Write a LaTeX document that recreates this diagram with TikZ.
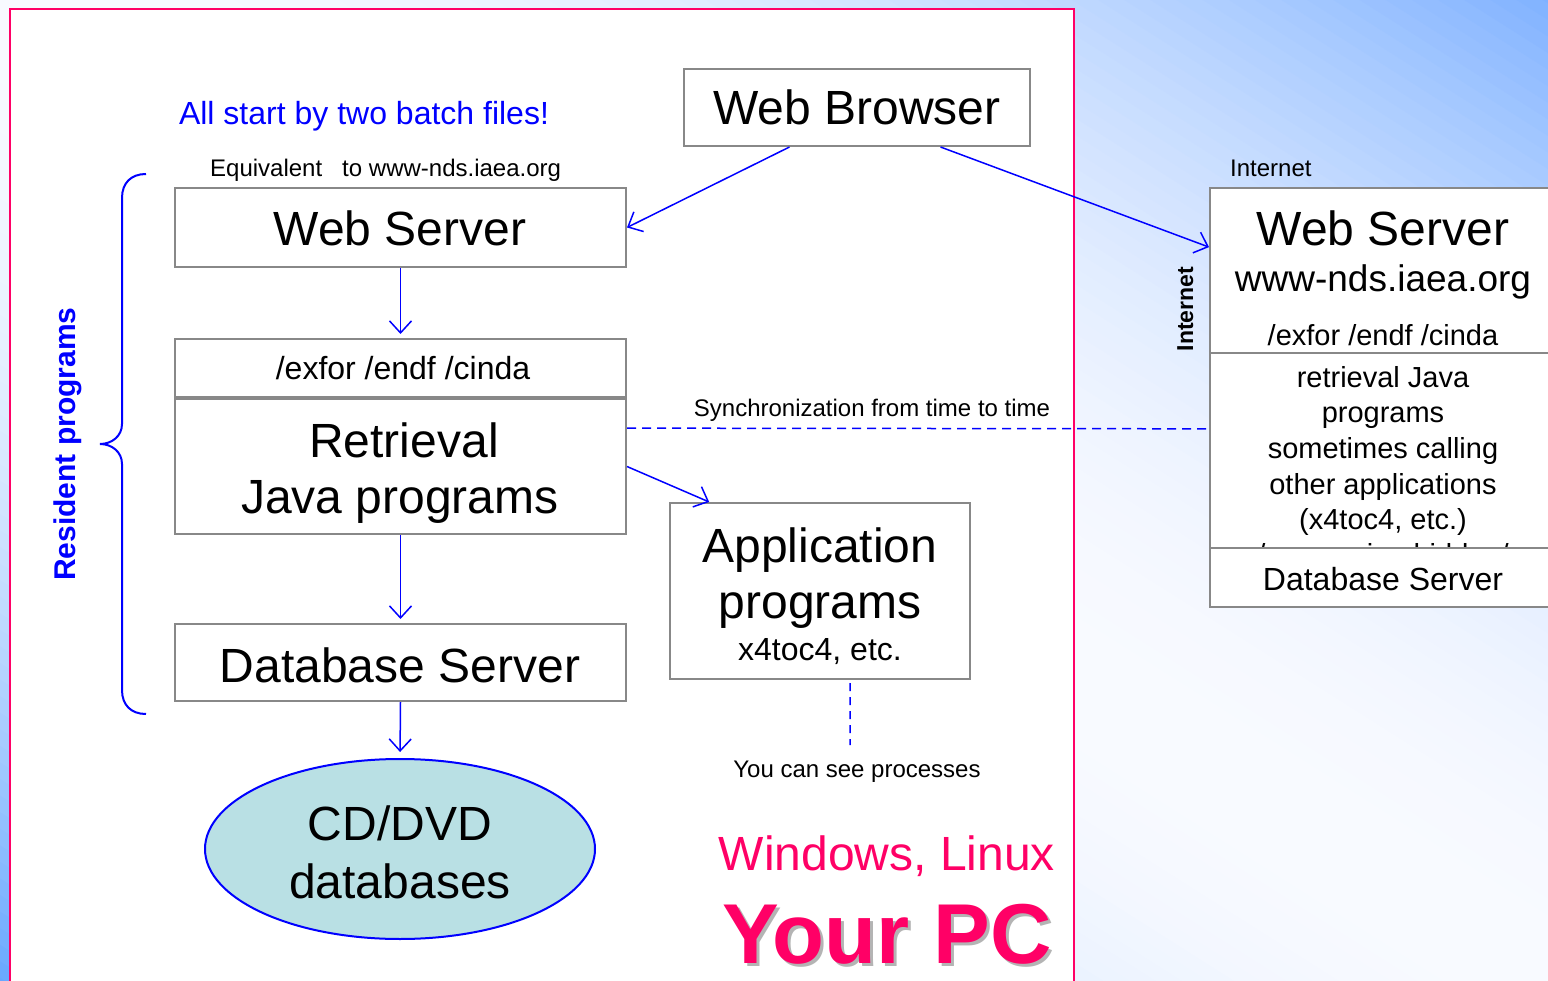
\documentclass[tikz,border=0pt]{standalone}
\usepackage{fontspec}
\setmainfont{Liberation Sans}
\usetikzlibrary{arrows.meta,shapes.geometric,calc}
\definecolor{pinkred}{RGB}{255,0,102}
\definecolor{boxgray}{RGB}{136,136,136}
\definecolor{lnblue}{RGB}{0,0,255}
\definecolor{cdfill}{RGB}{185,224,228}
\definecolor{bgtop}{RGB}{125,176,255}
\definecolor{bgbot}{RGB}{100,165,255}
\definecolor{bgmid}{RGB}{248,250,255}
\definecolor{shadowgray}{RGB}{180,180,180}
\newcommand\fsz[2]{\fontsize{#1}{#2}\selectfont}
\begin{document}
\begin{tikzpicture}[x=1pt,y=-1pt,
  box/.style={draw=boxgray,line width=2pt,fill=white,inner sep=0pt},
  lbl/.style={inner sep=0pt,anchor=base},
  conn/.style={draw=lnblue,line width=1.5pt,-{Straight Barb[length=12pt,width=22pt]}},
  dashconn/.style={draw=lnblue,line width=1.5pt,dash pattern=on 9pt off 6pt},
  frame/.style={draw=pinkred,line width=2pt,fill=white}]
\clip (0,0) rectangle (1548,981);
% page background: blue towards the two off-diagonal corners, pale along the diagonal
\foreach \i in {-60,...,59}{
  \pgfmathsetmacro\da{\i*14}
  \pgfmathsetmacro\db{\i*14+15}
  \pgfmathsetmacro\dm{abs(\i*14+7)/840}
  \pgfmathsetmacro\f{min(100,100*\dm*\dm)}
  \ifnum\i<0 \colorlet{bgc}{bgbot!\f!bgmid}\else\colorlet{bgc}{bgtop!\f!bgmid}\fi
  \fill[bgc] ({774+\da*0.5352-1000*0.8445},{490.5-\da*0.8445-1000*0.5352})
    -- ({774+\da*0.5352+1000*0.8445},{490.5-\da*0.8445+1000*0.5352})
    -- ({774+\db*0.5352+1000*0.8445},{490.5-\db*0.8445+1000*0.5352})
    -- ({774+\db*0.5352-1000*0.8445},{490.5-\db*0.8445-1000*0.5352}) -- cycle;
}
% the local PC area
\draw[frame] (10,9) rectangle (1074,1010);

% boxes of the local PC
\node[box,minimum width=346,minimum height=77] (wb) at (857,107.5) {};
\node[box,minimum width=451,minimum height=79] (ws) at (400.5,227.5) {};
\node[box,minimum width=451,minimum height=58] (ex) at (400.5,368) {};
\node[box,minimum width=451,minimum height=135] (ret) at (400.5,466.5) {};
\node[box,minimum width=451,minimum height=77] (db) at (400.5,662.5) {};
\node[ellipse,draw=lnblue,line width=2pt,fill=cdfill,inner sep=0pt,minimum width=390,minimum height=180] (cd) at (400,849) {};
\node[box,minimum width=300,minimum height=176] (app) at (820,591) {};

% texts of the local PC
\node[lbl,text=lnblue] (tAll) at (364,125) {\fsz{32}{38}All start by two batch files!};
\node[lbl] (tWB) at (857,125) {\fsz{48}{57}Web Browser};
\node[lbl,anchor=base west] (tEq) at (210,177) {\fsz{24}{29}Equivalent\hspace{20pt}to www-nds.iaea.org};
\node[lbl] (tWS) at (400,246) {\fsz{48}{57}Web Server};
\node[lbl] (tEx) at (403,380) {\fsz{32}{38}/exfor /endf /cinda};
\node[lbl] (tRet1) at (404,457) {\fsz{48}{57}Retrieval};
\node[lbl] (tRet2) at (400,513) {\fsz{48}{57}Java programs};
\node[lbl] (tDB) at (400,682) {\fsz{48}{57}Database Server};
\node[lbl] (tCD1) at (400,840) {\fsz{48}{57}CD/DVD};
\node[lbl] (tCD2) at (400,898) {\fsz{48}{57}databases};
\node[lbl] (tApp1) at (820,562) {\fsz{48}{57}Application};
\node[lbl] (tApp2) at (820,618) {\fsz{48}{57}programs};
\node[lbl] (tApp3) at (820,660) {\fsz{32}{38}x4toc4, etc.};
\node[lbl] (tSee) at (857,777) {\fsz{24}{29}You can see processes};
\node[lbl] (tSync) at (872,417) {\fsz{24}{29}Synchronization from time to time};
\node[lbl,text=pinkred] (tWin) at (887,870) {\fsz{48}{57}Windows, Linux};
\node[lbl,text=shadowgray] (tPCs) at (890,966) {\fsz{85}{100}\bfseries Your PC};
\node[lbl,text=pinkred] (tPC) at (887,963) {\fsz{85}{100}\bfseries Your PC};
\node[lbl,rotate=90,text=lnblue] (tRes) at (75,444) {\fsz{30}{36}\bfseries Resident programs};

% brace grouping the resident programs
\draw[lnblue,line width=2pt] (146,174) .. controls (131,174) and (122,183) .. (122,198)
  -- (122,424) .. controls (122,436) and (112,444) .. (100,444)
  .. controls (112,444) and (122,452) .. (122,464)
  -- (122,690) .. controls (122,705) and (131,714) .. (146,714);

% remote server
\node[box,minimum width=360,minimum height=165] (rtop) at (1390,270.5) {};
\node[box,minimum width=360,minimum height=195] (rmid) at (1390,450.5) {};
\node[lbl,anchor=base west] (tNet) at (1230,177) {\fsz{24}{29}Internet};
\node[lbl,rotate=90] (tNetV) at (1193,309) {\fsz{23}{28}\bfseries Internet};
\node[lbl] (tRWS) at (1383,246) {\fsz{48}{57}Web Server};
\node[lbl] (tRurl) at (1383,292) {\fsz{37}{44}www-nds.iaea.org};
\node[lbl] (tRex) at (1383,346) {\fsz{29}{35}/exfor /endf /cinda};
\node[lbl] (tR1) at (1383,388) {\fsz{29}{35}retrieval Java};
\node[lbl] (tR2) at (1383,423) {\fsz{29}{35}programs};
\node[lbl] (tR3) at (1383,458.5) {\fsz{29}{35}sometimes calling};
\node[lbl] (tR4) at (1383,494) {\fsz{29}{35}other applications};
\node[lbl] (tR5) at (1383,529) {\fsz{29}{35}(x4toc4, etc.)};
\begin{scope}
  \clip (1210,353) rectangle (1548,547);
  \node[lbl,text depth=0pt] (tR6) at (1383,564.5) {\fsz{29}{35}/processing hidden/};
\end{scope}
\node[box,minimum width=360,minimum height=59] (rdb) at (1390,577.5) {};
\node[lbl] (tRdb) at (1383,590) {\fsz{32}{38}Database Server};

% connectors
\coordinate (wbL) at ($(wb.south west)!0.306!(wb.south east)$);
\coordinate (wbR) at ($(wb.south west)!0.74!(wb.south east)$);
\coordinate (rIn) at ($(rtop.north west)!0.36!(rtop.south west)$);
\draw[conn] (wbL) -- (ws.east);
\draw[conn] (wbR) -- (rIn);
\draw[conn,shorten >=4pt] (ws.south) -- (ex.north);
\draw[conn,shorten >=4pt] (ret.south) -- (db.north);
\draw[conn,shorten >=6pt] (db.south) -- (cd.north);
\draw[conn] (ret.east) -- ($(app.north west)!0.133!(app.north east)$);
\draw[dashconn] ($(ret.north east)!0.22!(ret.south east)$) -- ($(rmid.north west)!0.39!(rmid.south west)$);
\coordinate (appEnd) at (850,745);
\draw[dashconn,dash pattern=on 8pt off 6pt,shorten <=3pt] ($(app.south west)!0.6!(app.south east)$) -- (appEnd);
\end{tikzpicture}
\end{document}
